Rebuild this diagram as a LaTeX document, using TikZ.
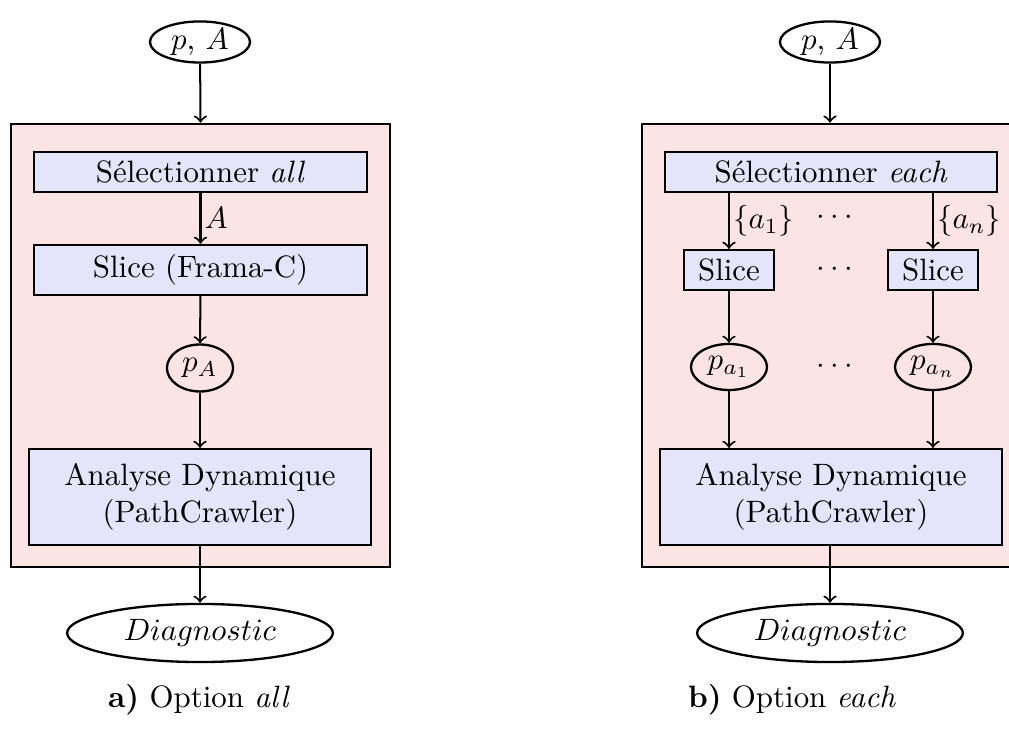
\documentclass[tikz,border=0pt]{standalone}
\usetikzlibrary{shapes.geometric}
\definecolor{fondrose}{RGB}{253,228,228}
\definecolor{fondbleu}{RGB}{228,228,250}
\tikzset{
  etape/.style={draw, line width=0.75pt, fill=fondbleu, inner sep=1pt, align=center},
  donnee/.style={draw, line width=0.75pt, ellipse, inner sep=0pt},
  cadre/.style={draw, line width=0.8pt, fill=fondrose, inner sep=0pt},
  fl/.style={->, line width=0.65pt}
}
\begin{document}
\begin{tikzpicture}[x=0.3236pt, y=-0.3236pt]
\useasboundingbox (0,0) rectangle (1009,740);

\node[cadre, minimum width=122.7pt, minimum height=143.4pt] (fa) at (200.5,345.5) {};
\node[donnee, minimum width=32.4pt, minimum height=13.3pt] (pa) at (200,42) {$p$, $A$};
\node[etape, minimum width=107.8pt, minimum height=12.9pt] (sela) at (200.5,172) {S\'electionner \textit{all}};
\node[etape, minimum width=107.8pt, minimum height=16.2pt] (sla) at (200.5,270) {Slice (Frama-C)};
\node[donnee, minimum width=21.4pt, minimum height=15.2pt] (pA) at (200,368) {$p_A$};
\node[etape, minimum width=110.7pt, minimum height=31pt] (ana) at (200,497) {Analyse Dynamique\\(PathCrawler)};
\node[donnee, minimum width=86pt, minimum height=18.8pt] (diaga) at (200,633) {$Diagnostic$};
\node (capa) at (199,700) {\textbf{a)} Option \textit{all}};

\draw[fl] (pa) -- (fa.north);
\draw[fl] (sela) -- node[right, inner sep=1pt] {$A$} (sla);
\draw[fl] (sla) -- (pA);
\draw[fl] (pA) -- (ana);
\draw[fl] (ana) -- (diaga);

\node[cadre, minimum width=122.7pt, minimum height=143.4pt] (fb) at (831.5,345.5) {};
\node[donnee, minimum width=32.4pt, minimum height=13.3pt] (pb) at (830,42) {$p$, $A$};
\node[etape, minimum width=107.5pt, minimum height=12.9pt] (selb) at (831,172) {S\'electionner \textit{each}};
\node[etape, minimum width=29.1pt, minimum height=12.9pt] (sl1) at (729,270) {Slice};
\node[etape, minimum width=29.1pt, minimum height=12.9pt] (sln) at (933,270) {Slice};
\node[donnee, minimum width=24.6pt, minimum height=14.9pt] (p1) at (729,367) {$p_{a_1}$};
\node[donnee, minimum width=24.6pt, minimum height=14.9pt] (pn) at (933,367) {$p_{a_n}$};
\node (d1) at (835,218) {$\cdots$};
\node (d2) at (835,270) {$\cdots$};
\node (d3) at (835,367) {$\cdots$};
\node[etape, minimum width=110.7pt, minimum height=31pt] (anb) at (831,497) {Analyse Dynamique\\(PathCrawler)};
\node[donnee, minimum width=86pt, minimum height=18.8pt] (diagb) at (830,633) {$Diagnostic$};
\node (capb) at (792,700) {\textbf{b)} Option \textit{each}};

\draw[fl] (pb) -- (fb.north -| pb);
\draw[fl] (selb.south -| sl1) -- node[right, inner sep=1pt] {$\{a_1\}$} (sl1);
\draw[fl] (selb.south -| sln) -- node[right, inner sep=1pt] {$\{a_n\}$} (sln);
\draw[fl] (sl1) -- (p1);
\draw[fl] (sln) -- (pn);
\draw[fl] (p1) -- (anb.north -| p1);
\draw[fl] (pn) -- (anb.north -| pn);
\draw[fl] (anb.south -| diagb) -- (diagb);

\end{tikzpicture}
\end{document}
